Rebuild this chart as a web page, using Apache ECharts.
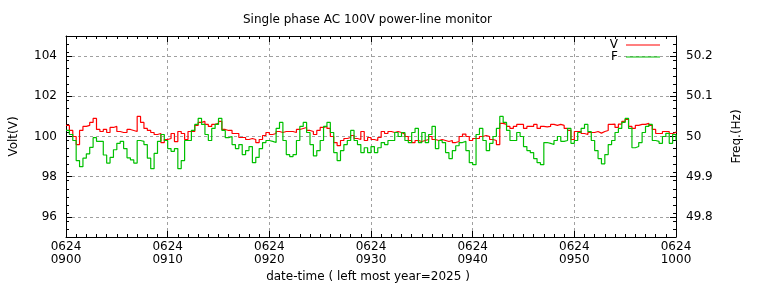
<!DOCTYPE html>
<html>
<head>
<meta charset="utf-8">
<script src="https://cdn.jsdelivr.net/npm/echarts@6/dist/echarts.min.js"></script>
<style>
  html, body { margin: 0; padding: 0; background: #fff; }
  #chart { width: 768px; height: 288px; }
</style>
</head>
<body>
<div id="chart"></div>
<script>
// samples every 20 s, 2025-06-24 09:00 - 10:00
const sampleSec = 20;

const xTickLabels = ['0624\n0900', '0624\n0910', '0624\n0920', '0624\n0930', '0624\n0940', '0624\n0950', '0624\n1000'];
const voltTicks = [96, 98, 100, 102, 104];
const freqTicks = [49.8, 49.9, 50, 50.1, 50.2];

// voltage (V)
const volt = [
  100.55, 100.3, 100.0, 99.6, 100.3, 100.5, 100.55, 100.7, 100.9, 100.35,
  100.25, 100.35, 100.2, 100.45, 100.5, 100.25, 100.2, 100.2, 100.35, 100.3,
  100.25, 101.0, 100.7, 100.4, 100.3, 100.2, 100.1, 100.15, 99.7, 99.85,
  99.9, 100.15, 99.75, 100.25, 100.15, 99.85, 100.25, 100.25, 100.55, 100.7,
  100.75, 100.6, 100.5, 100.6, 100.65, 100.75, 100.35, 100.3, 100.3, 100.15,
  100.15, 99.95, 99.95, 99.85, 99.9, 99.85, 99.7, 99.85, 100.05, 100.2,
  100.1, 100.15, 100.25, 100.2, 100.25, 100.25, 100.25, 100.2, 100.35, 100.4,
  100.45, 100.3, 100.25, 100.1, 100.3, 100.45, 100.5, 100.4, 100.0, 99.7,
  99.55, 99.8, 99.9, 99.95, 100.05, 99.9, 99.85, 100.25, 99.8, 99.95,
  99.85, 99.8, 99.95, 100.25, 100.15, 100.25, 100.2, 100.25, 100.2, 100.12,
  100.0, 99.8, 99.7, 99.8, 99.75, 99.8, 99.85, 100.0, 99.85, 99.8,
  99.85, 99.8, 99.75, 99.8, 99.7, 99.75, 100.0, 100.12, 100.0, 99.8,
  99.9, 99.9, 100.0, 100.05, 100.0, 99.85, 99.8, 99.6, 100.65, 100.6,
  100.5, 100.4, 100.5, 100.6, 100.6, 100.4, 100.5, 100.5, 100.6, 100.4,
  100.5, 100.48, 100.5, 100.6, 100.55, 100.6, 100.55, 100.4, 100.3, 99.85,
  100.25, 100.25, 100.15, 100.1, 100.2, 100.2, 100.25, 100.17, 100.25, 100.3,
  100.6, 100.62, 100.45, 100.62, 100.75, 100.85, 100.5, 100.4, 100.55, 100.6,
  100.6, 100.65, 100.55, 100.35, 100.15, 100.15, 100.25, 100.25, 100.15, 100.2,
  100.25
];

// frequency (Hz)
const freq = [
  50.015, 50.005, 49.99, 49.94, 49.925, 49.946, 49.957, 49.973, 49.997, 49.988,
  49.988, 49.954, 49.934, 49.948, 49.967, 49.983, 49.988, 49.97, 49.947, 49.942,
  49.934, 49.99, 49.988, 49.98, 49.946, 49.92, 49.958, 49.988, 50.005, 49.99,
  49.97, 49.963, 49.97, 49.92, 49.94, 49.99, 49.99, 50.015, 50.03, 50.045,
  50.03, 50.005, 49.99, 50.02, 50.03, 50.045, 50.015, 49.997, 50.0, 49.98,
  49.97, 49.98, 49.955, 49.965, 49.975, 49.935, 49.948, 49.97, 49.985, 49.99,
  49.988, 49.985, 50.02, 50.035, 49.99, 49.955, 49.95, 49.955, 49.99, 50.025,
  50.035, 50.01, 49.98, 49.952, 49.965, 49.99, 50.025, 50.035, 50.01, 49.96,
  49.94, 49.965, 49.98, 49.99, 50.015, 49.99, 49.98, 49.96, 49.972, 49.96,
  49.975, 49.96, 49.972, 49.985, 49.98, 49.99, 49.99, 50.01, 50.0, 50.01,
  49.99, 49.985, 50.01, 50.02, 49.985, 50.01, 49.985, 50.005, 50.025, 49.97,
  49.99, 49.985, 49.96, 49.945, 49.965, 49.977, 49.985, 49.988, 49.965, 49.935,
  49.93, 50.005, 50.02, 49.99, 49.965, 49.983, 50.0, 50.02, 50.05, 50.035,
  50.015, 49.99, 49.99, 50.01, 50.0, 49.975, 49.965, 49.96, 49.945, 49.935,
  49.93, 49.985, 49.983, 49.98, 49.99, 50.0, 49.988, 49.99, 50.02, 49.983,
  49.99, 50.01, 50.02, 50.03, 50.012, 49.99, 49.965, 49.945, 49.932, 49.955,
  49.98, 49.99, 50.01, 50.02, 50.035, 50.045, 50.02, 49.972, 49.975, 49.985,
  50.01, 50.025, 50.03, 49.99, 49.988, 49.983, 50.0, 50.008, 49.983, 50.005,
  49.99
];

// minor tick positions: every 0.4 V / 0.02 Hz
const voltMinor = [];
for (let i = 1; i < 25; i++) voltMinor.push(+(95 + i * 0.4).toFixed(1));
const freqMinor = [];
for (let i = 1; i < 25; i++) freqMinor.push(+(49.75 + i * 0.02).toFixed(2));

const font = 'DejaVu Sans';
const black = '#000';
const toXY = arr => arr.map((v, i) => [i * sampleSec / 60, v]);

const chart = echarts.init(document.getElementById('chart'));

const gridLine = { show: true, lineStyle: { color: '#a0a0a0', width: 1, type: [3, 3] } };

const options = {
    animation: false,
    textStyle: { fontFamily: font, color: black },
    title: {
        // centred over the plot area, not the page
        text: 'Single phase AC 100V power-line monitor',
        left: 238,
        top: 9,
        textStyle: { fontFamily: font, fontSize: 12, fontWeight: 'normal', color: black }
    },
    legend: {
        data: ['V', 'F'],
        orient: 'vertical',
        align: 'right',
        right: 108,
        top: 39,
        padding: 0,
        itemGap: 0,
        itemWidth: 34,
        itemHeight: 1,
        icon: 'rect',
        textStyle: { fontFamily: font, fontSize: 12, lineHeight: 12, color: black, padding: [0, 3, 0, 0] }
    },
    grid: { left: 65, right: 92, top: 36, bottom: 51 },
    xAxis: [
        {
            type: 'value', min: 0, max: 60, interval: 10, position: 'bottom',
            name: 'date-time ( left most year=2025 )',
            nameLocation: 'middle', nameGap: 33,
            nameTextStyle: { fontFamily: font, fontSize: 12, color: black, padding: [0, 6, 0, 0] },
            axisLine: { show: true, lineStyle: { color: black, width: 1 } },
            axisTick: { show: true, inside: true, length: 6, lineStyle: { color: black } },
            minorTick: { show: true, splitNumber: 10, length: 3, lineStyle: { color: black } },
            axisLabel: {
                formatter: v => xTickLabels[Math.round(v / 10)],
                fontFamily: font, fontSize: 12, lineHeight: 13, color: black, margin: 3
            },
            splitLine: gridLine
        },
        {
            type: 'value', min: 0, max: 60, interval: 10, position: 'top',
            axisLine: { show: true, lineStyle: { color: black, width: 1 } },
            axisTick: { show: true, inside: true, length: 6, lineStyle: { color: black } },
            minorTick: { show: true, splitNumber: 10, length: 3, lineStyle: { color: black } },
            axisLabel: { show: false },
            splitLine: { show: false }
        }
    ],
    yAxis: [
        {
            type: 'value', min: 95, max: 105, position: 'left',
            name: 'Volt(V)', nameLocation: 'middle', nameGap: 46, nameRotate: 90,
            nameTextStyle: { fontFamily: font, fontSize: 12, color: black },
            axisLine: { show: true, lineStyle: { color: black, width: 1 } },
            axisTick: { show: true, inside: true, length: 6, customValues: voltTicks, lineStyle: { color: black } },
            axisLabel: { customValues: voltTicks, fontFamily: font, fontSize: 12, color: black, margin: 9 },
            splitLine: Object.assign({ customValues: voltTicks }, gridLine)
        },
        {
            type: 'value', min: 95, max: 105, position: 'left',
            axisLine: { show: false },
            axisTick: { show: true, inside: true, length: 3, customValues: voltMinor, lineStyle: { color: black } },
            axisLabel: { show: false },
            splitLine: { show: false }
        },
        {
            type: 'value', min: 49.75, max: 50.25, position: 'right',
            name: 'Freq.(Hz)', nameLocation: 'middle', nameGap: 55, nameRotate: 90,
            nameTextStyle: { fontFamily: font, fontSize: 12, color: black },
            axisLine: { show: true, lineStyle: { color: black, width: 1 } },
            axisTick: { show: true, inside: true, length: 6, customValues: freqTicks, lineStyle: { color: black } },
            axisLabel: { customValues: freqTicks, fontFamily: font, fontSize: 12, color: black, margin: 10 },
            splitLine: { show: false }
        },
        {
            type: 'value', min: 49.75, max: 50.25, position: 'right',
            axisLine: { show: false },
            axisTick: { show: true, inside: true, length: 3, customValues: freqMinor, lineStyle: { color: black } },
            axisLabel: { show: false },
            splitLine: { show: false }
        }
    ],
    series: [
        {
            name: 'V', type: 'line', step: 'end', yAxisIndex: 0,
            showSymbol: false, symbol: 'none',
            color: '#ff0000',
            lineStyle: { color: '#ff0000', width: 1.2 },
            data: toXY(volt)
        },
        {
            name: 'F', type: 'line', step: 'end', yAxisIndex: 2,
            showSymbol: false, symbol: 'none',
            color: '#00c000',
            lineStyle: { color: '#00c000', width: 1.2 },
            data: toXY(freq)
        }
    ]
};

chart.setOption(options);
window.onresize = function () {
    chart.resize();
};
</script>
</body>
</html>
